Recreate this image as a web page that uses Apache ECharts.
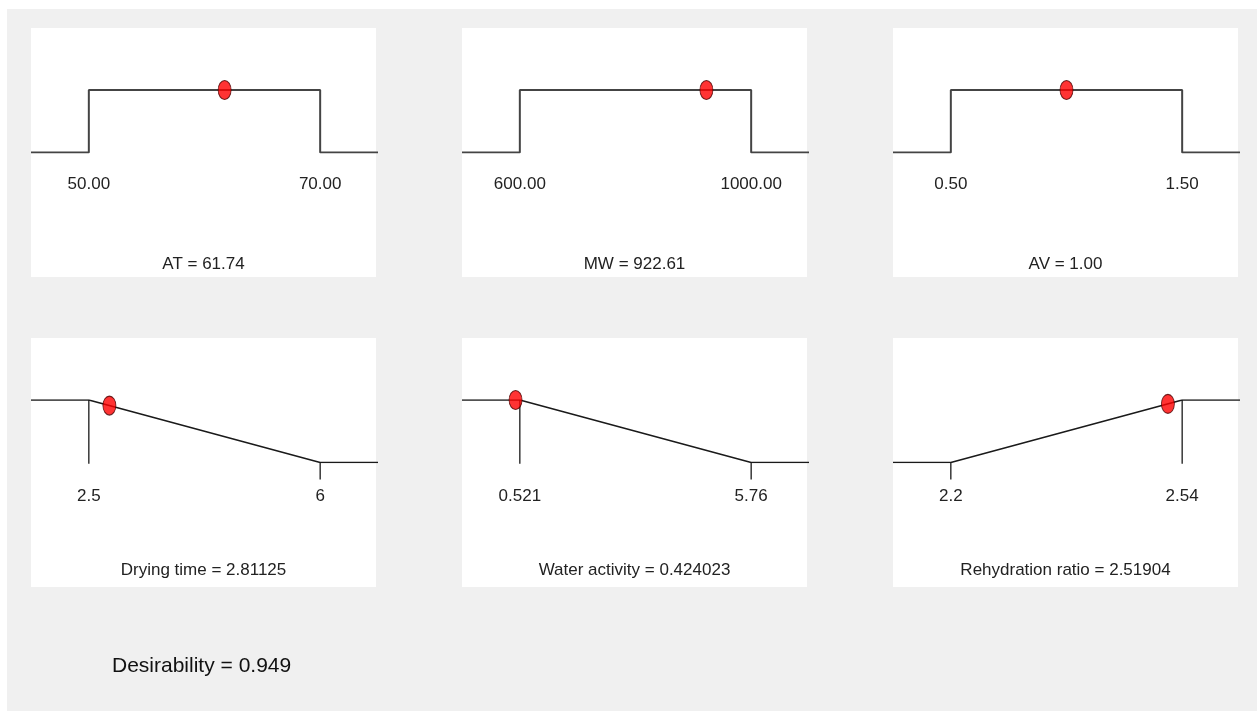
<!DOCTYPE html>
<html>
<head>
<meta charset="utf-8">
<title>Desirability</title>
<script src="https://cdn.jsdelivr.net/npm/echarts@6/dist/echarts.min.js"></script>
<style>
  html, body { margin: 0; padding: 0; background: #ffffff; }
  #chart { width: 1257px; height: 711px; }
</style>
</head>
<body>
<div id="chart"></div>
<script>
// Factors and responses, one panel each
const panelNames = ['AT', 'MW', 'AV', 'Drying time', 'Water activity', 'Rehydration ratio'];
const goalTypes = ['range', 'range', 'range', 'minimize', 'minimize', 'maximize'];
const lowLimits = [50, 600, 0.5, 2.5, 0.521, 2.2];
const highLimits = [70, 1000, 1.5, 6, 5.76, 2.54];
const lowLabels = ['50.00', '600.00', '0.50', '2.5', '0.521', '2.2'];
const highLabels = ['70.00', '1000.00', '1.50', '6', '5.76', '2.54'];
const solutionValues = [61.74, 922.61, 1.00, 2.81125, 0.424023, 2.51904];
const solutionTexts = ['61.74', '922.61', '1.00', '2.81125', '0.424023', '2.51904'];
const desirabilities = [1, 1, 1, 0.9111, 1, 0.9384];
const overallText = 'Desirability = 0.949';

// Layout
const FONT = "'Liberation Sans', Arial, sans-serif";
const colX = [31, 462, 893];
const rowY = [28, 338];
const panelW = 345, panelH = 249;
const plotW = 347, plotOffset = 62, plotH = 62.5;
const titleTop = [256, 562];
const labelMargin = [23, 25];

const grids = [], xAxes = [], yAxes = [], series = [], titles = [], panels = [];

panelNames.forEach(function (name, i) {
  const col = i % 3, row = Math.floor(i / 3);
  const lo = lowLimits[i], hi = highLimits[i], span = hi - lo;
  const xmin = lo - 0.25 * span, xmax = hi + 0.25 * span;
  const goal = goalTypes[i];
  const lineColor = row === 0 ? '#444444' : '#1a1a1a';
  const lineWidth = row === 0 ? 2 : 1.6;

  panels.push({
    type: 'rect', z: -1,
    shape: { x: colX[col], y: rowY[row], width: panelW, height: panelH },
    style: { fill: '#ffffff' }
  });

  grids.push({ left: colX[col], top: rowY[row] + plotOffset, width: plotW, height: plotH, containLabel: false });

  xAxes.push({
    gridIndex: i, type: 'value', min: xmin, max: xmax,
    axisLine: { show: false }, axisTick: { show: false }, splitLine: { show: false },
    axisLabel: {
      customValues: [lo, hi],
      margin: labelMargin[row],
      fontFamily: FONT, fontSize: 17, color: '#222222',
      formatter: function (v) { return Math.abs(v - lo) < 1e-9 ? lowLabels[i] : highLabels[i]; }
    }
  });
  yAxes.push({ gridIndex: i, type: 'value', min: 0, max: 1, show: false });

  // desirability curve
  let curve;
  if (goal === 'range') {
    curve = [[xmin, 0], [lo, 0], [lo, 1], [hi, 1], [hi, 0], [xmax, 0]];
  } else if (goal === 'minimize') {
    curve = [[xmin, 1], [lo, 1], [hi, 0], [xmax, 0]];
  } else {
    curve = [[xmin, 0], [lo, 0], [hi, 1], [xmax, 1]];
  }
  series.push({
    type: 'line', xAxisIndex: i, yAxisIndex: i, data: curve,
    symbol: 'none', lineStyle: { color: lineColor, width: lineWidth },
    silent: true, animation: false, z: 2
  });

  // limit markers for the response goals
  if (goal !== 'range') {
    const topLimit = goal === 'minimize' ? lo : hi;
    const bottomLimit = goal === 'minimize' ? hi : lo;
    [[[topLimit, 1], [topLimit, -0.02]], [[bottomLimit, 0], [bottomLimit, -0.27]]].forEach(function (seg) {
      series.push({
        type: 'line', xAxisIndex: i, yAxisIndex: i, data: seg, clip: false,
        symbol: 'none', lineStyle: { color: '#1a1a1a', width: 1.3 }, silent: true, animation: false, z: 2
      });
    });
  }

  // chosen solution
  series.push({
    type: 'scatter', xAxisIndex: i, yAxisIndex: i,
    data: [[solutionValues[i], desirabilities[i]]],
    symbol: 'circle', symbolSize: [13, 19],
    itemStyle: { color: '#ff0000', borderColor: '#4a0000', borderWidth: 1 },
    silent: true, animation: false, z: 4
  });

  titles.push({
    text: name + ' = ' + solutionTexts[i],
    left: colX[col] + panelW / 2, top: titleTop[row], textAlign: 'center', padding: 0,
    textStyle: { fontFamily: FONT, fontSize: 17, fontWeight: 'normal', color: '#222222' }
  });
});

titles.push({
  text: overallText, left: 112, top: 656, padding: 0,
  textStyle: { fontFamily: FONT, fontSize: 21, fontWeight: 'normal', color: '#111111' }
});

const chart = echarts.init(document.getElementById('chart'), null, { renderer: 'canvas' });
chart.setOption({
  animation: false,
  backgroundColor: 'transparent',
  graphic: [{
    type: 'rect', z: -2,
    shape: { x: 7, y: 9, width: 1257, height: 711 },
    style: { fill: '#f0f0f0' }
  }].concat(panels),
  title: titles,
  grid: grids,
  xAxis: xAxes,
  yAxis: yAxes,
  series: series
});
</script>
</body>
</html>
